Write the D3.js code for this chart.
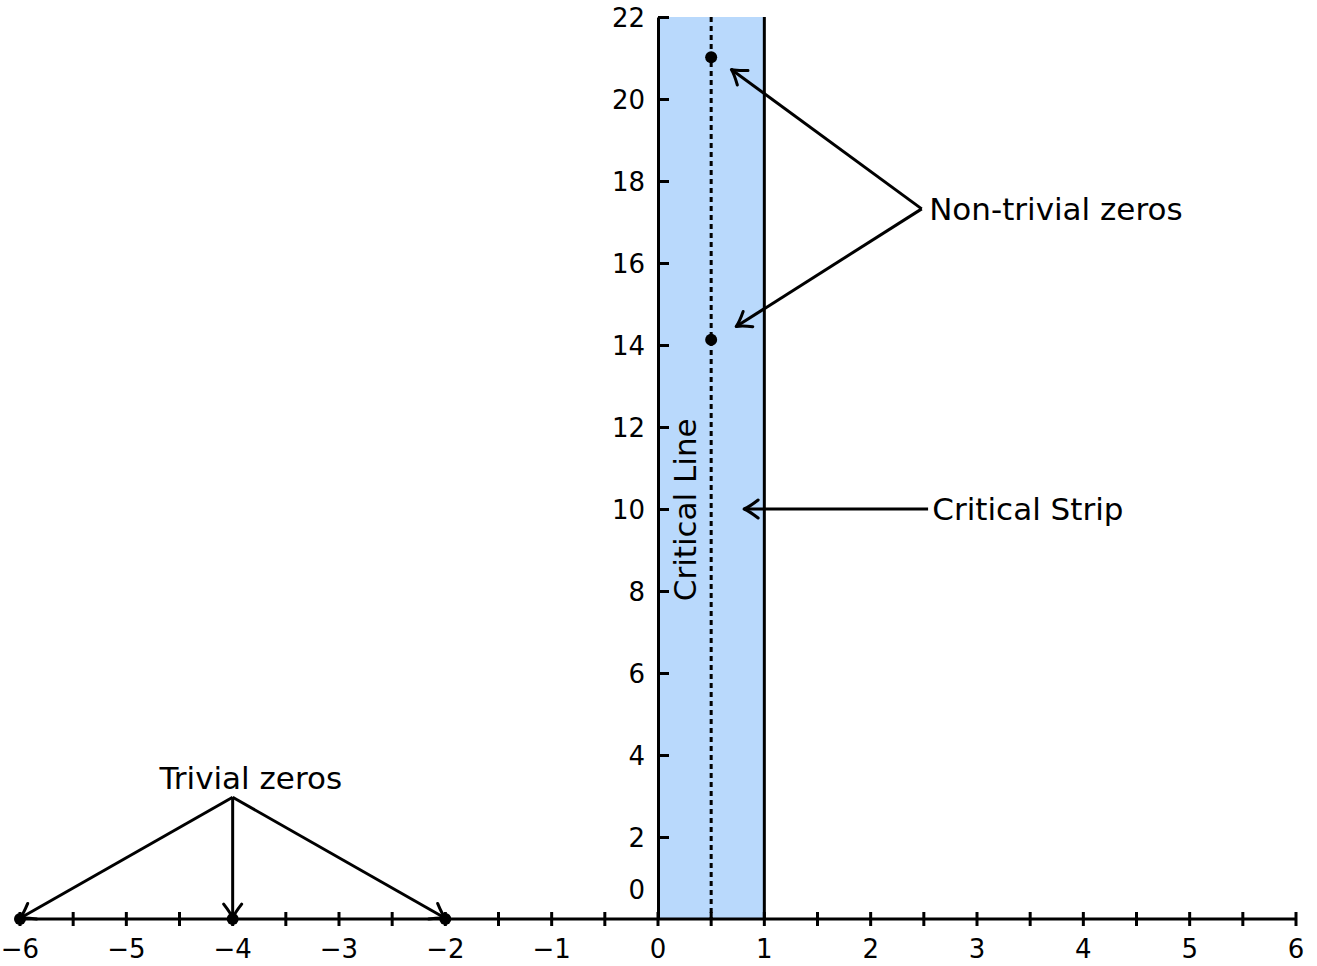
<!DOCTYPE html>
<html>
<head>
<meta charset="utf-8">
<script src="https://cdn.jsdelivr.net/npm/d3@7"></script>
<style>
  html, body { margin: 0; padding: 0; background: #fff; }
  svg { display: block; font-family: "DejaVu Sans", Verdana, sans-serif; }
</style>
</head>
<body>
<svg id="chart" width="1317" height="966"></svg>
<script>
// ---- data ----
const xDomain = [-6, 6];
const yDomain = [0, 22];
const xMajorTicks = [-6, -5, -4, -3, -2, -1, 0, 1, 2, 3, 4, 5, 6];
const xMinorTicks = [-5.5, -4.5, -3.5, -2.5, -1.5, -0.5, 0.5, 1.5, 2.5, 3.5, 4.5, 5.5];
const yTicks = [0, 2, 4, 6, 8, 10, 12, 14, 16, 18, 20, 22];
const strip = { x0: 0, x1: 1 };
const criticalLineX = 0.5;
const nonTrivialZeros = [[0.5, 14.13], [0.5, 21.02]];
const trivialZeros = [[-6, 0], [-4, 0], [-2, 0]];
const arrowsNonTrivial = { from: [2.48, 17.32], to: [[0.69, 20.72], [0.735, 14.45]] };
const arrowsStrip = { from: [2.54, 10], to: [[0.81, 10]] };
const arrowsTrivial = { from: [-4, 2.97], to: [[-6, 0.02], [-4, 0.02], [-2, 0.02]] };
const labels = [
  { text: "Non-trivial zeros", pos: [2.55, 17.32], anchor: "start", rotate: 0 },
  { text: "Critical Strip", pos: [2.58, 10], anchor: "start", rotate: 0 },
  { text: "Trivial zeros", pos: [-3.83, 3.44], anchor: "middle", rotate: 0 },
  { text: "Critical Line", pos: [0.255, 9.98], anchor: "middle", rotate: -90 }
];

// ---- drawing ----
const svg = d3.select("#chart");
const x = d3.scaleLinear().domain(xDomain).range([20, 1296]);
const y = d3.scaleLinear().domain(yDomain).range([919, 17]);
const SW = 3;

svg.append("defs").append("marker")
  .attr("id", "arrow")
  .attr("markerUnits", "userSpaceOnUse")
  .attr("viewBox", "-18 -11 22 22")
  .attr("refX", 0).attr("refY", 0)
  .attr("markerWidth", 22).attr("markerHeight", 22)
  .attr("orient", "auto")
  .append("path")
  .attr("d", "M-14,-9 Q-5,-2 0,0 Q-5,2 -14,9")
  .attr("fill", "none")
  .attr("stroke", "#000")
  .attr("stroke-width", 3)
  .attr("stroke-linecap", "round")
  .attr("stroke-linejoin", "round");

// strip
svg.append("rect")
  .attr("x", x(strip.x0)).attr("y", y(yDomain[1]))
  .attr("width", x(strip.x1) - x(strip.x0))
  .attr("height", y(yDomain[0]) - y(yDomain[1]))
  .attr("fill", "#b9d9fc");

svg.append("line")
  .attr("x1", x(strip.x1)).attr("x2", x(strip.x1))
  .attr("y1", y(yDomain[0])).attr("y2", y(yDomain[1]))
  .attr("stroke", "#000").attr("stroke-width", SW);

// critical line (dotted)
svg.append("line")
  .attr("x1", x(criticalLineX)).attr("x2", x(criticalLineX))
  .attr("y1", y(yDomain[1])).attr("y2", y(yDomain[0]))
  .attr("stroke", "#000").attr("stroke-width", SW)
  .attr("stroke-dasharray", "5,4");

// y axis
const yAxis = d3.axisLeft(y).tickValues(yTicks).tickSizeInner(-11).tickSizeOuter(0).tickPadding(13)
  .tickFormat(d3.format("d"));
const gy = svg.append("g").attr("transform", `translate(${x(0)},0)`).call(yAxis);
gy.select(".domain").attr("stroke-width", SW);
gy.selectAll(".tick line").attr("stroke-width", SW);
gy.selectAll(".tick text")
  .attr("font-size", 26)
  .attr("font-family", "DejaVu Sans, Verdana, sans-serif")
  .attr("dy", "0.36em")
  .attr("transform", d => d === 0 ? "translate(0,-30)" : null);
gy.selectAll(".tick").filter(d => d === 0).select("line").remove();

// x axis
svg.append("line")
  .attr("x1", x(xDomain[0])).attr("x2", x(xDomain[1]))
  .attr("y1", y(0)).attr("y2", y(0))
  .attr("stroke", "#000").attr("stroke-width", SW);
svg.append("g").selectAll("line")
  .data(xMajorTicks.concat(xMinorTicks))
  .join("line")
  .attr("x1", d => x(d)).attr("x2", d => x(d))
  .attr("y1", y(0) - 7).attr("y2", y(0) + 7)
  .attr("stroke", "#000").attr("stroke-width", SW);
const fmt = d3.format("d");
svg.append("g").selectAll("text")
  .data(xMajorTicks)
  .join("text")
  .attr("x", d => x(d)).attr("y", y(0) + 30)
  .attr("text-anchor", "middle")
  .attr("dominant-baseline", "central")
  .attr("font-size", 26)
  .text(d => fmt(d));

// arrows
function drawArrows(a) {
  svg.append("g").selectAll("line")
    .data(a.to)
    .join("line")
    .attr("x1", x(a.from[0])).attr("y1", y(a.from[1]))
    .attr("x2", d => x(d[0])).attr("y2", d => y(d[1]))
    .attr("stroke", "#000").attr("stroke-width", SW)
    .attr("marker-end", "url(#arrow)");
}
drawArrows(arrowsNonTrivial);
drawArrows(arrowsStrip);
drawArrows(arrowsTrivial);

// zeros
svg.append("g").selectAll("circle")
  .data(nonTrivialZeros.concat(trivialZeros))
  .join("circle")
  .attr("cx", d => x(d[0])).attr("cy", d => y(d[1]))
  .attr("r", 6).attr("fill", "#000");

// labels
svg.append("g").selectAll("text")
  .data(labels)
  .join("text")
  .attr("transform", d => `translate(${x(d.pos[0])},${y(d.pos[1])}) rotate(${d.rotate})`)
  .attr("text-anchor", d => d.anchor)
  .attr("dominant-baseline", "central")
  .attr("font-size", 31)
  .text(d => d.text);
</script>
</body>
</html>
